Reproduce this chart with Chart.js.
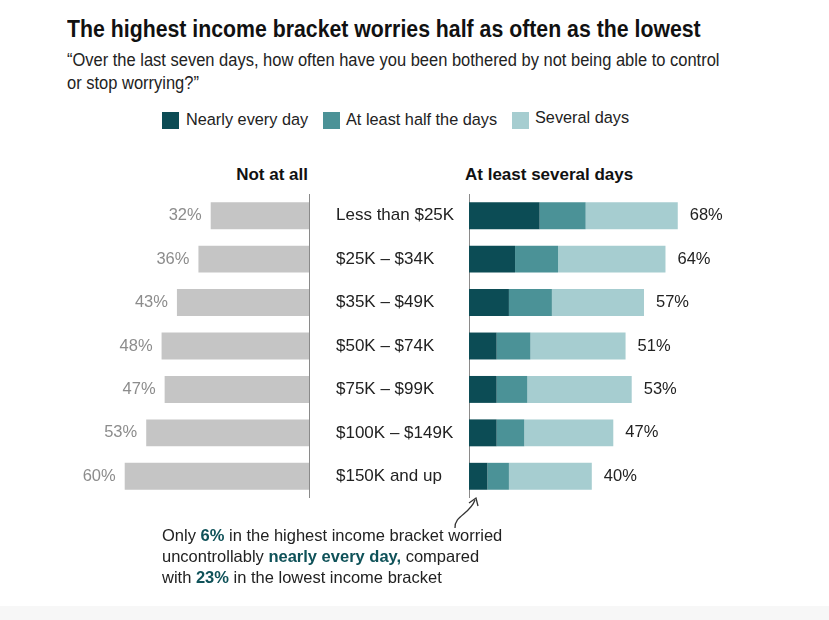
<!DOCTYPE html>
<html>
<head>
<meta charset="utf-8">
<script src="https://cdn.jsdelivr.net/npm/chart.js@4.4.1/dist/chart.umd.min.js"></script>
<style>
  body { margin: 0; background: #fff; font-family: "Liberation Sans", Arial, sans-serif; color: #222; }
  #page { position: relative; width: 829px; height: 620px; overflow: hidden; }
  .abs { position: absolute; white-space: nowrap; }
  .narrow { transform-origin: 0 0; }
  #title { left: 67px; top: 16px; font-weight: bold; font-size: 23px; color: #111; transform: scaleX(0.925); }
  #subtitle { left: 67px; top: 49px; font-size: 17.5px; line-height: 23px; color: #222; transform: scaleX(0.942); }
  .key { position: absolute; top: 112px; width: 17px; height: 17px; }
  .keytxt { position: absolute; font-size: 16.3px; color: #222; }
  .head { font-weight: bold; font-size: 17px; color: #111; top: 165px; }
  #note { left: 162px; top: 525px; font-size: 16.5px; line-height: 21px; color: #222; }
  #note b { color: #0f5259; }
  #foot { left: 0; top: 606px; width: 829px; height: 14px; background: #f7f7f7; }
  canvas { position: absolute; }
</style>
</head>
<body>
<div id="page">
  <div id="title" class="abs narrow">The highest income bracket worries half as often as the lowest</div>
  <div id="subtitle" class="abs narrow">“Over the last seven days, how often have you been bothered by not being able to control<br>or stop worrying?”</div>

  <div class="key" style="left:162px;background:#0c4c55"></div>
  <div class="keytxt" style="left:186px;top:110px">Nearly every day</div>
  <div class="key" style="left:323px;background:#4b9297"></div>
  <div class="keytxt" style="left:346px;top:110px">At least half the days</div>
  <div class="key" style="left:512px;background:#a6cdd0"></div>
  <div class="keytxt" style="left:535px;top:108px">Several days</div>

  <div class="abs head" style="right:521px">Not at all</div>
  <div class="abs head" style="left:465px">At least several days</div>

  <canvas id="leftChart" style="left:40px;top:194px;width:270px;height:304px"></canvas>
  <canvas id="rightChart" style="left:336px;top:194px;width:440px;height:304px"></canvas>
  <canvas id="arrow" style="left:440px;top:490px;width:50px;height:45px"></canvas>

  <div id="note" class="abs">Only <b>6%</b> in the highest income bracket worried<br>uncontrollably <b>nearly every day,</b> compared<br>with <b>23%</b> in the lowest income bracket</div>
  <div id="foot" class="abs"></div>
</div>

<script>
const brackets = ["Less than $25K", "$25K \u2013 $34K", "$35K \u2013 $49K", "$50K \u2013 $74K", "$75K \u2013 $99K", "$100K \u2013 $149K", "$150K and up"];
const notAtAll = [32, 36, 43, 48, 47, 53, 60];
const nearlyEveryDay = [23, 15, 13, 9, 9, 9, 6];
const halfTheDays = [15, 14, 14, 11, 10, 9, 7];
const severalDays = [30, 35, 30, 31, 34, 29, 27];
const totals = [68, 64, 57, 51, 53, 47, 40];

const labelFont = '16.5px "Liberation Sans", Arial, sans-serif';

// draws the % value at the end of each bar
const valueLabels = {
  id: "valueLabels",
  afterDatasetsDraw(chart, args, opts) {
    const ctx = chart.ctx;
    const meta = chart.getDatasetMeta(chart.data.datasets.length - 1);
    ctx.save();
    ctx.font = labelFont;
    ctx.fillStyle = opts.color;
    ctx.textBaseline = "middle";
    ctx.textAlign = opts.side === "left" ? "right" : "left";
    meta.data.forEach((bar, i) => {
      const x = opts.side === "left" ? bar.x - 9 : bar.x + 12;
      ctx.fillText(opts.values[i] + "%", x, bar.y);
    });
    ctx.restore();
  }
};

new Chart(document.getElementById("leftChart"), {
  type: "bar",
  data: {
    labels: brackets,
    datasets: [{
      data: notAtAll,
      backgroundColor: "#c5c5c5",
      categoryPercentage: 1,
      barPercentage: 0.62
    }]
  },
  options: {
    indexAxis: "y",
    responsive: false,
    animation: false,
    layout: { padding: { left: 54 } },
    plugins: {
      legend: { display: false },
      tooltip: { enabled: false },
      valueLabels: { side: "left", color: "#8c8c8c", values: notAtAll }
    },
    scales: {
      x: { reverse: true, min: 0, max: 70, display: false },
      y: {
        position: "right",
        grid: { display: false },
        border: { display: true, color: "#8a8a8a", width: 1 },
        ticks: { display: false },
        afterFit(scale) { scale.width = 1; }
      }
    }
  },
  plugins: [valueLabels]
});

new Chart(document.getElementById("rightChart"), {
  type: "bar",
  data: {
    labels: brackets,
    datasets: [
      { label: "Nearly every day", data: nearlyEveryDay, backgroundColor: "#0c4c55" },
      { label: "At least half the days", data: halfTheDays, backgroundColor: "#4b9297" },
      { label: "Several days", data: severalDays, backgroundColor: "#a6cdd0" }
    ].map(d => Object.assign(d, { categoryPercentage: 1, barPercentage: 0.62 }))
  },
  options: {
    indexAxis: "y",
    responsive: false,
    animation: false,
    layout: { padding: 0 },
    plugins: {
      legend: { display: false },
      tooltip: { enabled: false },
      valueLabels: { side: "right", color: "#222", values: totals }
    },
    scales: {
      x: { stacked: true, min: 0, max: 100, display: false },
      y: {
        stacked: true,
        grid: { display: false },
        border: { display: true, color: "#8a8a8a", width: 1 },
        ticks: {
          crossAlign: "far",
          color: "#222",
          font: { family: '"Liberation Sans", Arial, sans-serif', size: 17 }
        },
        afterFit(scale) {
          scale.width = 133;
          scale.paddingTop = 0;
          scale.paddingBottom = 0;
        }
      }
    }
  },
  plugins: [valueLabels]
});

// small curved pointer from the note up to the last bar
(function () {
  const c = document.getElementById("arrow");
  const dpr = window.devicePixelRatio || 1;
  c.width = 50 * dpr; c.height = 45 * dpr;
  const ctx = c.getContext("2d");
  ctx.scale(dpr, dpr);
  ctx.strokeStyle = "#333";
  ctx.lineWidth = 1.3;
  ctx.beginPath();
  ctx.moveTo(15, 38);
  ctx.bezierCurveTo(14, 26, 30, 24, 35, 10);
  ctx.stroke();
  ctx.beginPath();
  ctx.moveTo(29, 13);
  ctx.lineTo(36, 8);
  ctx.lineTo(38, 16);
  ctx.stroke();
})();
</script>
</body>
</html>
